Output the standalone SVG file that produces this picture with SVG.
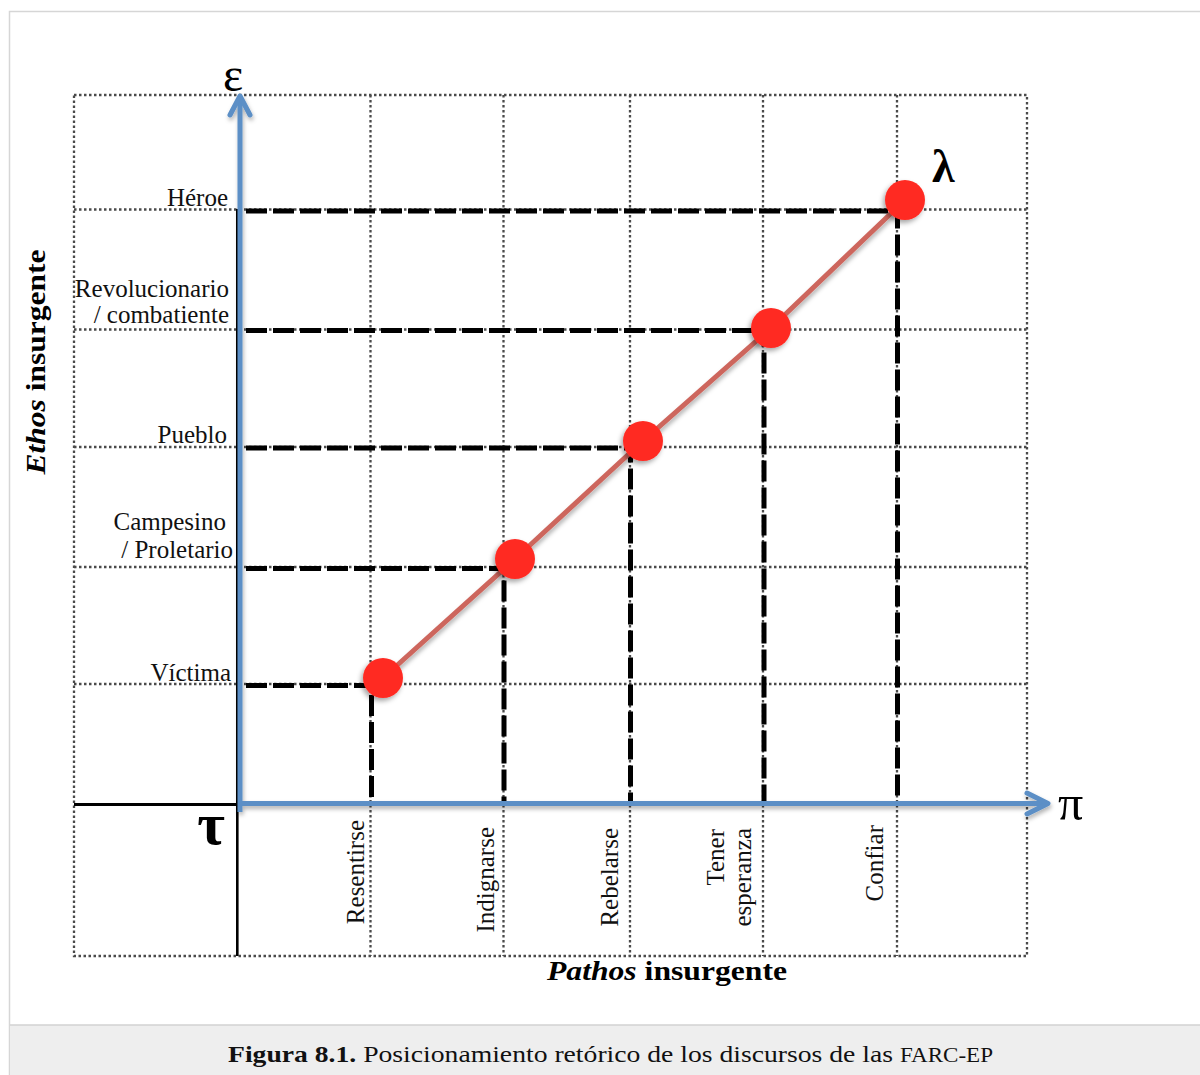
<svg xmlns="http://www.w3.org/2000/svg" width="1200" height="1075" viewBox="0 0 1200 1075">
  <defs>
    <style>
      .grid { fill: none; stroke: #4a4a4a; stroke-width: 2.3; stroke-dasharray: 2.5 2.5; }
      .proj { fill: none; stroke: #000; stroke-width: 5; stroke-dasharray: 21 6; }
      .axis { fill: none; stroke: #5b8fc6; stroke-width: 5; }
      .arrow { fill: none; stroke: #5b8fc6; stroke-width: 5; stroke-linecap: round; stroke-linejoin: round; }
      .lbl { font-family: "Liberation Serif", "Times New Roman", serif; font-size: 25px; fill: #111; }
      .greek { font-family: "Liberation Serif", "DejaVu Serif", serif; fill: #000; }
      .title { font-family: "Liberation Serif", "Times New Roman", serif; font-size: 28px; font-weight: bold; fill: #000; }
      .dot { fill: #ff2c24; }
    </style>
    <filter id="axisShadow" x="-5%" y="-5%" width="110%" height="110%">
      <feDropShadow dx="1" dy="3" stdDeviation="2" flood-color="#000" flood-opacity="0.3"/>
    </filter>
    <filter id="dotShadow" x="-50%" y="-50%" width="200%" height="200%">
      <feDropShadow dx="-2" dy="3" stdDeviation="2.5" flood-color="#000" flood-opacity="0.35"/>
    </filter>
  </defs>

  <!-- page frame and caption band -->
  <rect x="0" y="0" width="1200" height="1075" fill="#fff"/>
  <path d="M9.5 1075 V11.5 H1200" fill="none" stroke="#d6d6d6" stroke-width="1.5"/>
  <rect x="10" y="1025" width="1190" height="50" fill="#eeeeee"/>
  <line x1="10" y1="1025" x2="1200" y2="1025" stroke="#d2d2d2" stroke-width="1.5"/>

  <!-- dotted reference grid -->
  <g id="grid">
    <rect class="grid" x="74" y="95" width="953" height="861"/>
    <line class="grid" x1="370.5" y1="95" x2="370.5" y2="956"/>
    <line class="grid" x1="503.5" y1="95" x2="503.5" y2="956"/>
    <line class="grid" x1="630" y1="95" x2="630" y2="956"/>
    <line class="grid" x1="763" y1="95" x2="763" y2="956"/>
    <line class="grid" x1="897" y1="95" x2="897" y2="956"/>
    <line class="grid" x1="74" y1="209.5" x2="1027" y2="209.5"/>
    <line class="grid" x1="74" y1="329.5" x2="1027" y2="329.5"/>
    <line class="grid" x1="74" y1="447" x2="1027" y2="447"/>
    <line class="grid" x1="74" y1="567" x2="1027" y2="567"/>
    <line class="grid" x1="74" y1="684" x2="1027" y2="684"/>
    <!-- solid quadrant lines behind the axes -->
    <line x1="74" y1="804.5" x2="237" y2="804.5" stroke="#000" stroke-width="3"/>
    <line x1="237.3" y1="209" x2="237.3" y2="956" stroke="#000" stroke-width="2.6"/>
  </g>

  <g id="connectors">
    <!-- projections from each point onto both axes -->
    <polyline class="proj" points="246,211 897.5,211 897.5,801"/>
    <polyline class="proj" points="246,330.5 764,330.5 764,801"/>
    <polyline class="proj" points="246,448 630.5,448 630.5,801"/>
    <polyline class="proj" points="246,568.5 504,568.5 504,801"/>
    <polyline class="proj" points="246,685.5 371.5,685.5 371.5,801"/>

    <!-- axes -->
    <g filter="url(#axisShadow)">
      <line class="axis" x1="240" y1="812" x2="240" y2="98"/>
      <polyline class="arrow" points="230,115 240,96 250,115"/>
      <line class="axis" x1="238" y1="803.5" x2="1046" y2="803.5"/>
      <polyline class="arrow" points="1027,793 1048,803.5 1027,814"/>
    </g>

    <!-- trajectory -->
    <polyline points="383,678 515,559 643,441 771,328 905,200" fill="none" stroke="#cd665d" stroke-width="5" filter="url(#axisShadow)"/>
  </g>

  <!-- points -->
  <g id="p-victima"><circle class="dot" cx="383" cy="678" r="20" filter="url(#dotShadow)"/></g>
  <g id="p-campesino"><circle class="dot" cx="515" cy="559" r="20" filter="url(#dotShadow)"/></g>
  <g id="p-pueblo"><circle class="dot" cx="643" cy="441" r="20" filter="url(#dotShadow)"/></g>
  <g id="p-revolucionario"><circle class="dot" cx="771" cy="328" r="20" filter="url(#dotShadow)"/></g>
  <g id="p-heroe"><circle class="dot" cx="905" cy="200" r="20" filter="url(#dotShadow)"/></g>

  <!-- axis symbols -->
  <g id="symbols">
    <text class="greek" x="233" y="91" font-size="48" text-anchor="middle">ε</text>
    <text class="greek" x="1058" y="820" font-size="50">π</text>
    <text class="greek" x="225" y="844" font-size="60" font-weight="bold" text-anchor="end">τ</text>
    <text class="greek" x="932" y="182" font-size="46" font-weight="bold">λ</text>
  </g>

  <!-- ethos levels -->
  <g id="ethos-labels" class="lbl" text-anchor="end">
    <text x="228" y="206">Héroe</text>
    <text x="229" y="297">Revolucionario</text>
    <text x="229" y="323">/ combatiente</text>
    <text x="227" y="443">Pueblo</text>
    <text x="226" y="530">Campesino</text>
    <text x="233" y="558">/ Proletario</text>
    <text x="231" y="681">Víctima</text>
  </g>

  <!-- pathos levels -->
  <g id="pathos-labels" class="lbl" text-anchor="end">
    <text transform="translate(364 820) rotate(-90)">Resentirse</text>
    <text transform="translate(494 827) rotate(-90)">Indignarse</text>
    <text transform="translate(618 828) rotate(-90)">Rebelarse</text>
    <text transform="translate(724 829) rotate(-90)">Tener</text>
    <text transform="translate(751 828) rotate(-90)">esperanza</text>
    <text transform="translate(883 825) rotate(-90)">Confiar</text>
  </g>

  <!-- axis titles -->
  <g id="axis-titles" class="title">
    <text transform="translate(45 362) rotate(-90)" text-anchor="middle" textLength="225" lengthAdjust="spacingAndGlyphs"><tspan font-style="italic">Ethos</tspan> insurgente</text>
    <text x="547" y="980" textLength="240" lengthAdjust="spacingAndGlyphs"><tspan font-style="italic">Pathos</tspan> insurgente</text>
  </g>

  <!-- caption -->
  <text x="228" y="1062" font-family="'Liberation Serif', 'Times New Roman', serif" font-size="24" fill="#111" textLength="765" lengthAdjust="spacingAndGlyphs"><tspan font-weight="bold">Figura 8.1.</tspan> Posicionamiento retórico de los discursos de las <tspan font-size="20">FARC-EP</tspan></text>
</svg>
